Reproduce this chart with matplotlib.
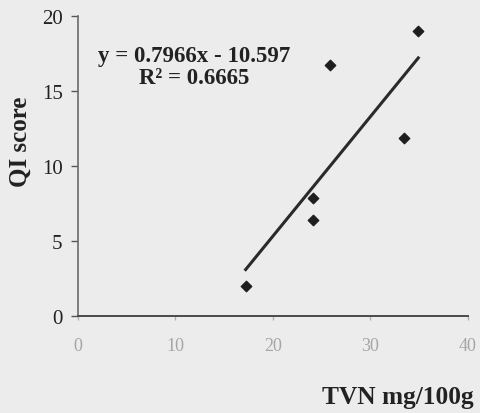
import numpy as np
import matplotlib.pyplot as plt

# TVN (mg/100g) vs QI score
tvn = [17.2, 24.1, 24.1, 25.8, 33.4, 34.9]
qi = [2.0, 7.9, 6.4, 16.7, 11.9, 19.0]
slope = 0.7966
intercept = -10.597
r2 = 0.6665

x_ticks = [0, 10, 20, 30, 40]
y_ticks = [0, 5, 10, 15, 20]

plt.rcParams['font.family'] = ['Liberation Serif', 'DejaVu Serif']

fig = plt.figure(figsize=(4.81, 4.14), dpi=100)
fig.patch.set_facecolor('#ececec')
ax = fig.add_axes([0.162, 0.234, 0.811, 0.725])
ax.set_facecolor('#ececec')

ax.scatter(tvn, qi, marker='D', s=28, color='#1e1e1e', zorder=3)

# trend line across the data range
xl = np.array([min(tvn), max(tvn)])
ax.plot(xl, slope * xl + intercept, color='#2a2a2a', lw=2.2, zorder=2)

ax.text(0.299, 0.832, f'y = {slope}x - {abs(intercept)}\nR² = {r2}',
        transform=ax.transAxes, ha='center', va='center', fontsize=16.5,
        fontweight='bold', color='#222222', linespacing=1.1)

ax.set_xlim(0, 40)
ax.set_ylim(0, 20)
ax.set_xticks(x_ticks)
ax.set_yticks(y_ticks)
ax.tick_params(axis='y', labelsize=15, colors='#555555', labelcolor='#222222',
               length=5, width=1, pad=6)
ax.tick_params(axis='x', labelsize=13, colors='#b0b0b0', labelcolor='#a5a5a5',
               length=3, width=1, pad=12)

for s in ['top', 'right']:
    ax.spines[s].set_visible(False)
ax.spines['left'].set_color('#6a6a6a')
ax.spines['bottom'].set_color('#4a4a4a')
ax.spines['left'].set_linewidth(1.2)
ax.spines['bottom'].set_linewidth(1.4)

fig.text(0.042, 0.657, 'QI score', rotation=90, ha='center', va='center',
         fontsize=18, fontweight='bold', color='#222222')
fig.text(0.985, 0.041, 'TVN mg/100g', ha='right', va='center',
         fontsize=18.3, fontweight='bold', color='#222222')

fig.savefig('out.png', dpi=100, facecolor=fig.get_facecolor())
